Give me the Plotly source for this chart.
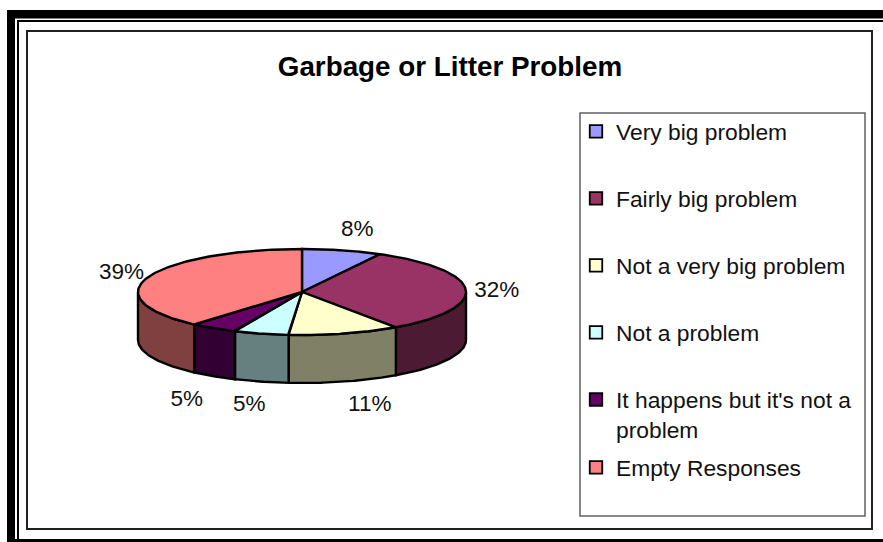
import numpy as np
import plotly.graph_objects as go

title = "Garbage or Litter Problem"
categories = ["Very big problem", "Fairly big problem", "Not a very big problem",
              "Not a problem", "It happens but it's not a<br>problem", "Empty Responses"]
values = [7.9, 32.4, 11.0, 5.4, 4.7, 38.6]
top_colors = ["#9999FF", "#993366", "#FFFFCC", "#CCFFFF", "#660066", "#FF8080"]
side_colors = ["#4D4D80", "#4D1A33", "#808066", "#668080", "#330033", "#804040"]

W, H = 883, 542
CX, CY, RX, RY, DEPTH = 302, 292, 164, 43, 48
LABEL_DX = [15, 31, 25, -12, -27, -27]
LABEL_DY = [-20, 2, 72, 72, 72, -4]
FONT = "Liberation Sans, Arial, sans-serif"


def rim(a, depth=0.0):
    a = np.asarray(a)
    return CX + RX * np.sin(a), CY - RY * np.cos(a) + depth


fig = go.Figure()
total = sum(values)
edges = np.concatenate([[0], np.cumsum(values)]) / total * 2 * np.pi

# side walls (only the part of the rim facing the viewer)
for i in range(len(values)):
    lo, hi = max(edges[i], np.pi / 2), min(edges[i + 1], 3 * np.pi / 2)
    if hi <= lo:
        continue
    t = np.linspace(lo, hi, 60)
    x1, y1 = rim(t)
    x2, y2 = rim(t[::-1], DEPTH)
    fig.add_trace(go.Scatter(
        x=np.r_[x1, x2, x1[0]], y=np.r_[y1, y2, y1[0]], mode="lines", fill="toself",
        fillcolor=side_colors[i], line=dict(color="black", width=2.4),
        showlegend=False, hoverinfo="skip"))

# top faces
for i in range(len(values)):
    t = np.linspace(edges[i], edges[i + 1], 120)
    x, y = rim(t)
    fig.add_trace(go.Scatter(
        x=np.r_[CX, x, CX], y=np.r_[CY, y, CY], mode="lines", fill="toself",
        fillcolor=top_colors[i], line=dict(color="black", width=2.4),
        showlegend=False, hoverinfo="skip"))

# percentage labels
mids = (edges[:-1] + edges[1:]) / 2
mx, my = rim(mids)
fig.add_trace(go.Scatter(
    x=mx + np.array(LABEL_DX), y=my + np.array(LABEL_DY), mode="text",
    text=[f"{round(v)}%" for v in values], textposition="middle center",
    textfont=dict(family=FONT, size=22.5, color="#111111"),
    showlegend=False, hoverinfo="skip"))

# legend entries
for i, name in enumerate(categories):
    fig.add_trace(go.Scatter(
        x=[None], y=[None], mode="markers", name=name, legendgroup=f"g{i}",
        legend="legend2" if i == 5 else "legend",
        marker=dict(symbol="square", size=12.5, color=top_colors[i],
                    line=dict(color="black", width=1.8))))

legend_style = dict(bgcolor="rgba(0,0,0,0)", borderwidth=0, xanchor="left", yanchor="top",
                    font=dict(family=FONT, size=22.8, color="#111111"), valign="top",
                    itemclick=False, itemdoubleclick=False)

shapes = [
    # thick outer border
    dict(type="rect", x0=7, x1=15, y0=10, y1=H, fillcolor="black", line_width=0),
    dict(type="rect", x0=7, x1=W, y0=10, y1=18.5, fillcolor="black", line_width=0),
    dict(type="rect", x0=7, x1=W, y0=539, y1=H, fillcolor="black", line_width=0),
    # thin second border
    dict(type="line", x0=18, x1=18, y0=20, y1=H, line=dict(color="black", width=2)),
    dict(type="line", x0=17, x1=W, y0=21, y1=21, line=dict(color="black", width=2)),
    # chart frame
    dict(type="rect", x0=27, x1=872, y0=31, y1=529, line=dict(color="#202020", width=2)),
    # legend box
    dict(type="rect", x0=580, x1=865, y0=113, y1=516, fillcolor="white",
         line=dict(color="#606060", width=1.5), layer="below"),
]

fig.update_layout(
    width=W, height=H, autosize=False, margin=dict(l=0, r=0, t=0, b=0),
    paper_bgcolor="white", plot_bgcolor="white",
    title=dict(text=f"<b>{title}</b>", x=450 / W, xanchor="center", y=1 - 66 / H, yanchor="middle",
               xref="paper", yref="paper", font=dict(family=FONT, size=27.8, color="black")),
    xaxis=dict(range=[0, W], visible=False, fixedrange=True),
    yaxis=dict(range=[H, 0], visible=False, fixedrange=True),
    shapes=shapes,
    legend=dict(x=576 / W, y=1 - 110 / H, tracegroupgap=34.4, **legend_style),
    legend2=dict(x=576 / W, y=1 - 446 / H, **legend_style),
    hovermode=False,
)

fig.write_html("out.html", config={"displayModeBar": False},
               post_script="document.body.style.margin='0';document.body.style.overflow='hidden';")
